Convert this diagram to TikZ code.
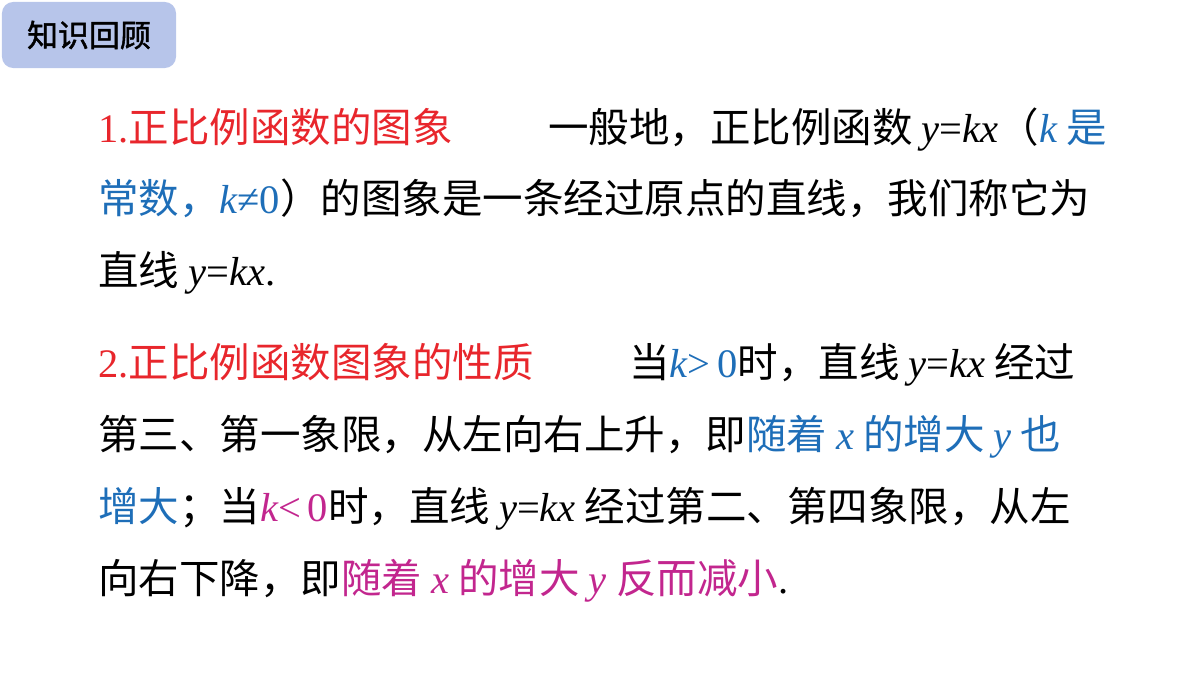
\documentclass[tikz,border=0pt]{standalone}
\usepackage{fontspec}
\setmainfont{Liberation Serif}
\newfontfamily\cjk{Noto Sans CJK SC}
\newfontfamily\cjkbold[FakeBold=1.5]{Noto Sans CJK SC}
\usetikzlibrary{positioning}
\definecolor{slidered}{HTML}{E8262C}
\definecolor{slideblue}{HTML}{1E6EB8}
\definecolor{slidepink}{HTML}{C2268E}
\definecolor{tagfill}{HTML}{B7C5EA}
\newcommand{\mv}[1]{{\rmfamily\itshape #1}}
\newcommand{\rs}[1]{{\rmfamily #1}}
\tikzset{
    textline/.style={anchor=base west, inner sep=0pt, font=\cjk\fontsize{28.8}{32}\selectfont},
    tagbox/.style={fill=tagfill, rounded corners=8pt, inner sep=0pt, minimum width=4.35cm, minimum height=1.65cm},
}
\begin{document}
\begin{tikzpicture}[x=0.025cm, y=-0.025cm]
\useasboundingbox (0,0) rectangle (1200,675);
% heading tab
\node[tagbox] (tag) at (89,35) {};
\node[font=\cjkbold\fontsize{22}{26}\selectfont] (tagtext) at (tag) {知识回顾};
% body lines
\node[textline] (l1) at (98,143) {\textcolor{slidered}{\rs{1.}正比例函数的图象}\hspace{68pt}一般地，正比例函数 \mv{y}\rs{=}\mv{kx}（\textcolor{slideblue}{\mv{k} 是}};
\node[textline] (l2) at (98,214) {\textcolor{slideblue}{常数，\mv{k}\rs{≠0}}）的图象是一条经过原点的直线，我们称它为};
\node[textline] (l3) at (98,285) {直线 \mv{y}\rs{=}\mv{kx}\rs{.}};
\node[textline] (l4) at (98,377) {\textcolor{slidered}{\rs{2.}正比例函数图象的性质}\hspace{68pt}当\textcolor{slideblue}{\mv{k}\rs{>\,0}}时，直线 \mv{y}\rs{=}\mv{kx} 经过};
\node[textline] (l5) at (98,449) {第三、第一象限，从左向右上升，即\textcolor{slideblue}{随着 \mv{x} 的增大 \mv{y} 也}};
\node[textline] (l6) at (98,521) {\textcolor{slideblue}{增大}；当\textcolor{slidepink}{\mv{k}\rs{<\,0}}时，直线 \mv{y}\rs{=}\mv{kx} 经过第二、第四象限，从左};
\node[textline] (l7) at (98,593) {向右下降，即\textcolor{slidepink}{随着 \mv{x} 的增大 \mv{y} 反而减小}\rs{.}};
\end{tikzpicture}
\end{document}
